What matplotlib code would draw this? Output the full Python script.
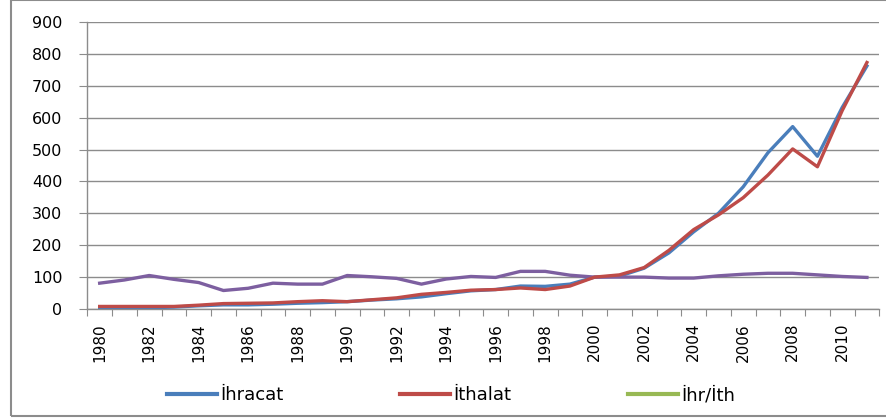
import matplotlib
matplotlib.use("Agg")
import matplotlib.pyplot as plt
from matplotlib.lines import Line2D
from matplotlib.patches import Rectangle
import numpy as np

years = list(range(1980, 2012))
ihracat = [2, 3, 4, 6, 10, 13, 13, 15, 18, 20, 23, 28, 32, 38, 48, 57,
           61, 72, 71, 78, 100, 103, 128, 176, 242, 300, 383, 490, 572, 479, 632, 762]
ithalat = [8, 8, 8, 8, 12, 17, 18, 19, 23, 26, 23, 29, 35, 46, 52, 59,
           61, 66, 61, 72, 100, 107, 130, 184, 249, 295, 349, 420, 502, 446, 622, 773]
ihr_ith = [81, 91, 105, 93, 83, 58, 65, 81, 78, 78, 105, 101, 96, 78, 94, 102,
           99, 118, 118, 106, 100, 100, 100, 97, 97, 104, 109, 112, 112, 107, 102, 99]
labels = ["İhracat", "İthalat", "İhr/İth"]
yticks = list(range(0, 1000, 100))

W, H = 886, 419
fig = plt.figure(figsize=(W / 100, H / 100), dpi=100)
plt.rcParams['font.family'] = ['DejaVu Sans']

ax = fig.add_axes([87.3 / W, 1 - 309 / H, (879.3 - 87.3) / W, (309 - 22) / H])

x = np.arange(len(years))
c_blue, c_red, c_purple, c_green = "#4A7EBB", "#BE4B48", "#7D5FA0", "#98B954"
ax.plot(x, ihracat, color=c_blue, lw=2.4, solid_joinstyle="round", zorder=3)
ax.plot(x, ithalat, color=c_red, lw=2.4, solid_joinstyle="round", zorder=4)
ax.plot(x, ihr_ith, color=c_purple, lw=2.4, solid_joinstyle="round", zorder=3)

ax.set_xlim(-0.5, len(years) - 0.5)
ax.set_ylim(0, 900)
ax.set_yticks(yticks)
ax.set_yticklabels([str(v) for v in yticks], fontsize=11.5)
ax.grid(axis="y", color="#8c8c8c", lw=1.0)
ax.set_axisbelow(True)

ax.set_xticks(np.arange(-0.5, len(years), 1.0))
ax.set_xticklabels([])
ax.set_xticks(x[::2], minor=True)
ax.set_xticklabels([str(y) for y in years[::2]], minor=True, rotation=90, fontsize=11)
ax.tick_params(axis="x", which="major", length=5, color="#8c8c8c", direction="out")
ax.tick_params(axis="x", which="minor", length=0, pad=10)
ax.tick_params(axis="y", length=6, color="#8c8c8c", pad=12)

for s in ["top", "right"]:
    ax.spines[s].set_visible(False)
for s in ["left", "bottom"]:
    ax.spines[s].set_color("#8c8c8c")
    ax.spines[s].set_linewidth(1.0)

# legend (three separate entries)
colors = [c_blue, c_red, c_green]
xs = [167, 400, 628]
for lab, col, xp in zip(labels, colors, xs):
    h = Line2D([], [], color=col, lw=3)
    fig.legend(handles=[h], labels=[lab], loc="center left",
               bbox_to_anchor=(xp / W, 1 - 395 / H), frameon=False,
               fontsize=13, handlelength=2.75, handletextpad=0.2,
               borderpad=0, borderaxespad=0)

fig.patches.append(Rectangle((11 / W, 3 / H), (W + 10 - 11) / W, (H - 3.5) / H,
                             transform=fig.transFigure, fill=False,
                             edgecolor="#8c8c8c", lw=1.5))

fig.savefig("out.png", dpi=100)
